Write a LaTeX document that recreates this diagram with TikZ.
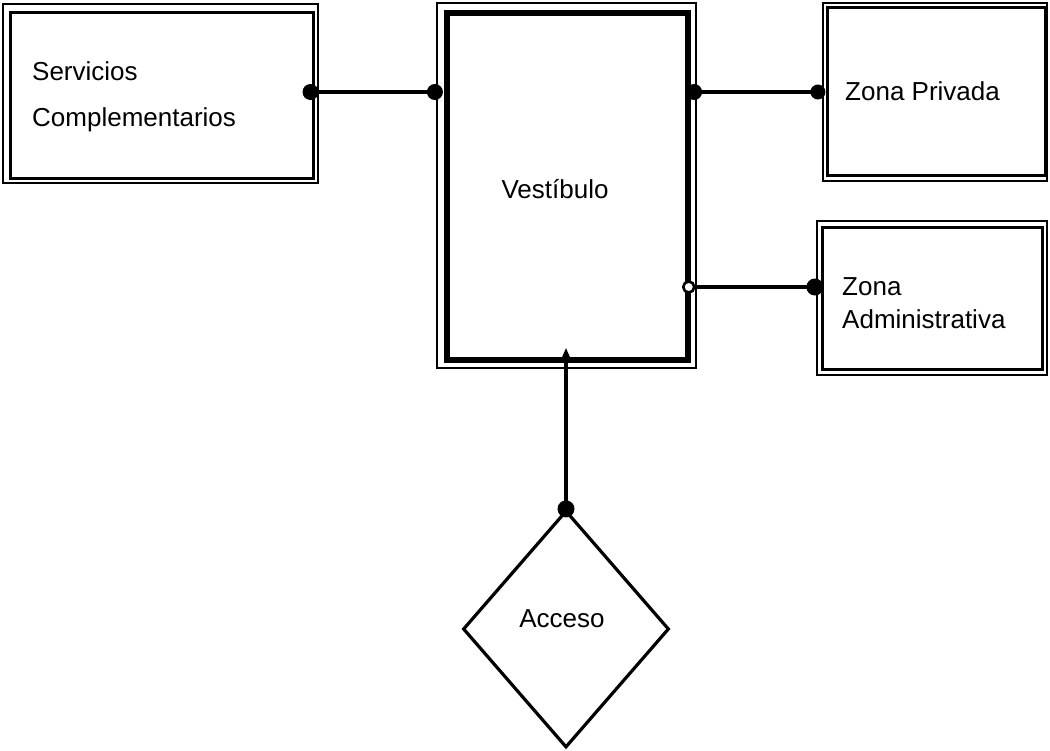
\documentclass[tikz,border=0pt]{standalone}
\usepackage{fontspec}
\setmainfont{Liberation Sans}
\usetikzlibrary{shapes.geometric,arrows.meta,calc}
\begin{document}
\begin{tikzpicture}[x=1pt,y=-1pt,
  innerbox/.style={draw, line width=3pt, inner sep=0pt, rectangle},
  bigbox/.style={draw, line width=5.5pt, inner sep=0pt, rectangle},
  framebox/.style={draw, line width=2.2pt, inner sep=0pt, rectangle},
  conn/.style={line width=3.2pt},
  lbl/.style={font=\fontsize{26}{30}\selectfont, inner sep=0pt},
  dotfill/.style={fill=black},
  dotopen/.style={draw=black, line width=2.6pt, fill=white}
]
\useasboundingbox (0,0) rectangle (1050,750);

% boxes
\node[framebox, minimum width=315pt, minimum height=179pt] (servF) at (160.5,93.5) {};
\node[innerbox, minimum width=303pt, minimum height=166pt] (serv) at (161.5,95) {};

\node[framebox, minimum width=259pt, minimum height=365pt] (vestF) at (566.5,185.5) {};
\node[bigbox, minimum width=241pt, minimum height=347pt] (vest) at (567.5,186.5) {};

\node[framebox, minimum width=224pt, minimum height=178pt] (zpF) at (935,92) {};
\node[innerbox, minimum width=218pt, minimum height=168pt] (zp) at (936,91) {};

\node[framebox, minimum width=230pt, minimum height=154pt] (zaF) at (932,298) {};
\node[innerbox, minimum width=220pt, minimum height=142pt] (za) at (932,298) {};

\node[diamond, draw, line width=3.2pt, inner sep=0pt, minimum width=206pt, minimum height=237pt] (acc) at (566,629) {};

% labels
\node[lbl, anchor=base west] (t1) at (32,80) {Servicios};
\node[lbl, anchor=base west] (t2) at (32,126) {Complementarios};
\node[lbl, anchor=base] (t3) at (555,198) {Vestíbulo};
\node[lbl, anchor=base west] (t4) at (845,100) {Zona Privada};
\node[lbl, anchor=base west] (t5) at (842,295) {Zona};
\node[lbl, anchor=base west] (t6) at (842,328) {Administrativa};
\node[lbl, anchor=base] (t7) at (562,627) {Acceso};

% connectors
\coordinate (yA) at (0,92);
\coordinate (yB) at (0,287);
\draw[conn] (serv.east |- yA) -- (vestF.west |- yA);
\fill[dotfill] ($(serv.east |- yA)+(-4,0)$) circle (8pt);
\fill[dotfill] ($(vestF.west |- yA)+(-1,0)$) circle (8pt);

\draw[conn] (vestF.east |- yA) -- (zpF.west |- yA);
\fill[dotfill] ($(vestF.east |- yA)+(-3,0)$) circle (8pt);
\fill[dotfill] ($(zpF.west |- yA)+(-4,0)$) circle (7.5pt);

\draw[conn] (vest.east |- yB) -- (zaF.west |- yB);
\draw[dotopen] ($(vest.east |- yB)+(-2,0)$) circle (5.5pt);
\fill[dotfill] ($(zaF.west |- yB)+(-1,0)$) circle (8.5pt);

\coordinate (tipc) at ($(vest.south)+(0,-15)$);
\draw[conn, -{Triangle[length=14pt,width=11pt]}] (acc.north) -- (acc.north |- tipc);
\fill[dotfill] (acc.north) circle (8.5pt);
\end{tikzpicture}
\end{document}
